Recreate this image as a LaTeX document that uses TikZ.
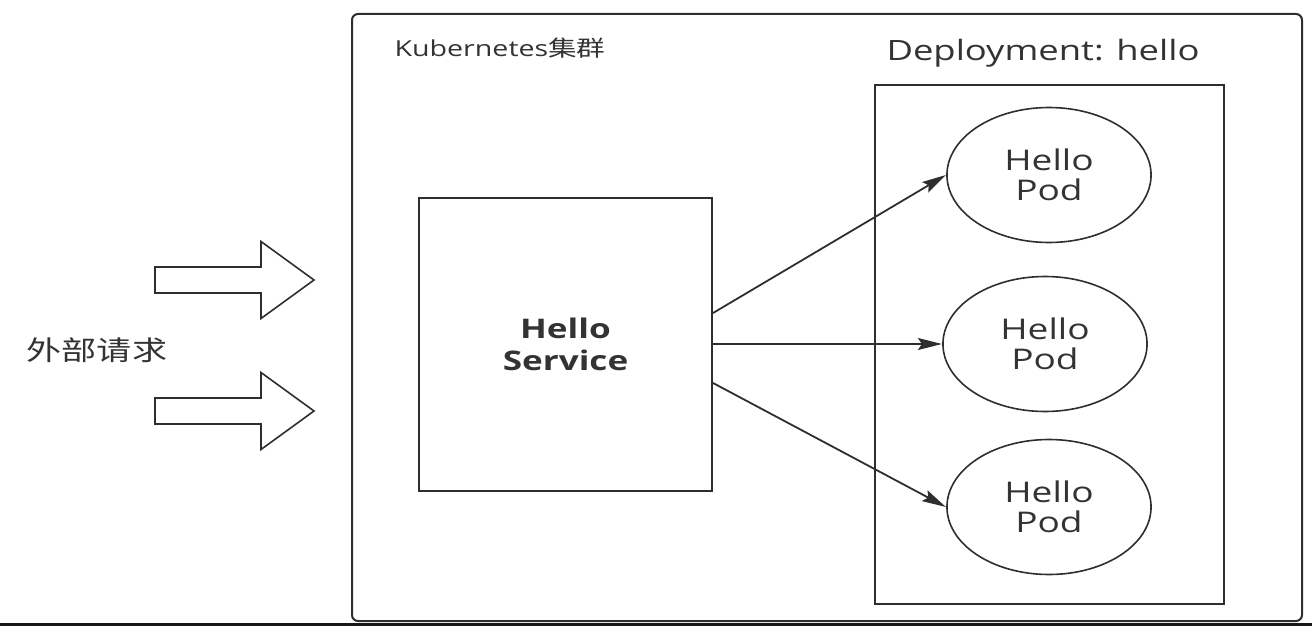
\documentclass[tikz,border=0pt]{standalone}
\usepackage{fontspec}
\setmainfont{Open Sans}
\newfontfamily\cjk{Noto Sans CJK SC}
\usetikzlibrary{shapes.geometric,arrows.meta}
\definecolor{linegray}{HTML}{2E2E2E}
\definecolor{textgray}{HTML}{333333}
\begin{document}
\begin{tikzpicture}[x=1pt, y=-1pt,
    every node/.append style={xscale=1.3, text=textgray},
    pod/.style={ellipse, draw=linegray, line width=1.6pt, minimum width=157pt, minimum height=135pt,
      inner sep=0pt, align=center, font=\fontsize{28.5}{30}\selectfont},
    svcbox/.style={rectangle, draw=linegray, line width=2pt, minimum width=225pt, minimum height=293pt,
      align=center, font=\bfseries\fontsize{27}{32}\selectfont},
    conn/.style={linegray, line width=1.8pt, -{Stealth[length=24pt, width=12pt, inset=4pt]}}]
    \useasboundingbox (0,0) rectangle (1312,626);
    \fill[black!90] (0,622.5) rectangle (1312,626);
    \draw[linegray, line width=2pt, rounded corners=6pt] (352,14) rectangle (1302,621);
    \draw[linegray, line width=2pt] (875,85) rectangle (1224,604);
    \node[anchor=base, font=\fontsize{22}{24}\selectfont] (k8s) at (500,57) {Kubernetes{\cjk 集群}};
    \node[anchor=base, font=\fontsize{28}{32}\selectfont] (deploy) at (1043,61) {Deployment: hello};
    \node[svcbox] (svc) at (565.5,344) {Hello\\Service};
    \node[pod] (pod1) at (1049,175) {Hello\\Pod};
    \node[pod] (pod2) at (1045,344) {Hello\\Pod};
    \node[pod] (pod3) at (1049,507) {Hello\\Pod};
    \foreach \y in {280, 411} {
      \draw[linegray, line width=1.6pt] (155,\y-13) -- (261,\y-13) -- (261,\y-38.5) -- (314,\y)
        -- (261,\y+38.5) -- (261,\y+13) -- (155,\y+13) -- cycle;
    }
    \node[font=\cjk\fontsize{27}{30}\selectfont] (req) at (97,350) {外部请求};
    \draw[conn] ([yshift=31pt]svc.east) -- (pod1.west);
    \draw[conn] (svc.east) -- (pod2.west);
    \draw[conn] ([yshift=-39pt]svc.east) -- (pod3.west);
\end{tikzpicture}
\end{document}
